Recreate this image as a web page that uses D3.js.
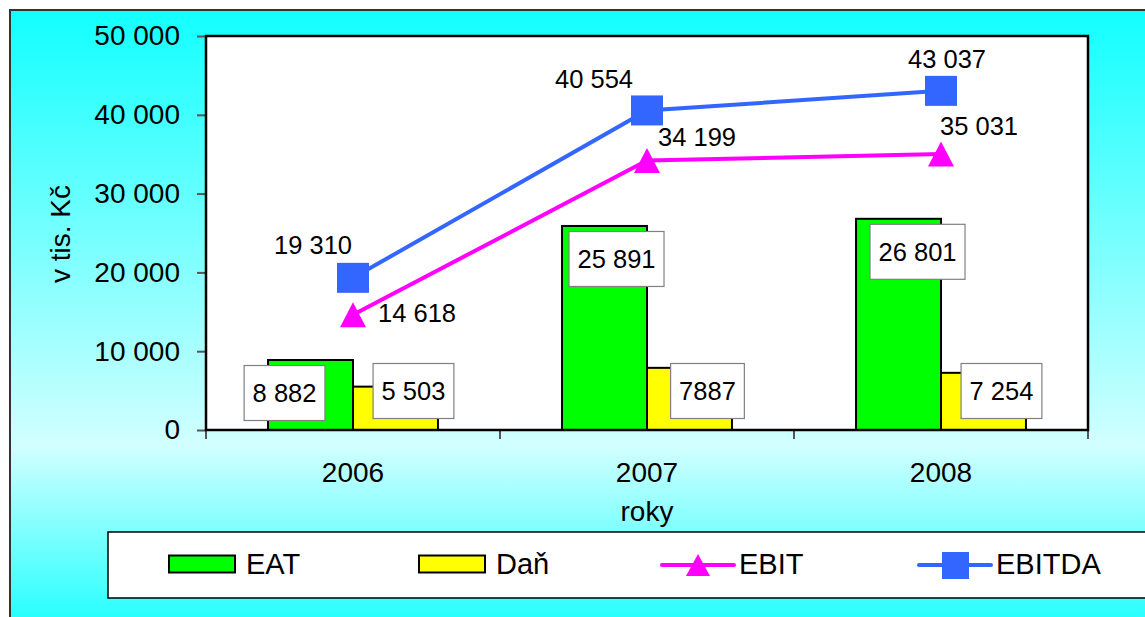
<!DOCTYPE html>
<html>
<head>
<meta charset="utf-8">
<script src="https://cdn.jsdelivr.net/npm/d3@7"></script>
<style>
  body { margin: 0; background: #fff; }
  text { font-family: "Liberation Sans", Arial, sans-serif; fill: #000; }
</style>
</head>
<body>
<div id="chart"></div>
<script>
// data
var years = ["2006", "2007", "2008"];
var eat = [8882, 25891, 26801];
var dan = [5503, 7887, 7254];
var ebit = [14618, 34199, 35031];
var ebitda = [19310, 40554, 43037];
var yTicks = [0, 10000, 20000, 30000, 40000, 50000];
var danText = ["5 503", "7887", "7 254"];

// hand placed label nudges (layout only)
var eatShift = [-26, 12, 19];
var ebitShift = [[64, 7], [50, -15], [38, -19]];
var ebitdaShift = [[-40, -24], [-53, -22], [6, -23]];

var W = 1145, H = 617;
var plot = { left: 206, top: 36, right: 1088, bottom: 430 };

var loc = d3.formatLocale({ decimal: ",", thousands: " ", grouping: [3], currency: ["", ""] });
var fmt = loc.format(",d");

var svg = d3.select("#chart").append("svg")
    .attr("width", W)
    .attr("height", H);

var defs = svg.append("defs");
var grad = defs.append("linearGradient")
    .attr("id", "bg")
    .attr("x1", 0).attr("y1", 0).attr("x2", 0).attr("y2", 1);
grad.append("stop").attr("offset", "0%").attr("stop-color", "#12ffff");
grad.append("stop").attr("offset", "70%").attr("stop-color", "#d2ffff");
grad.append("stop").attr("offset", "100%").attr("stop-color", "#1cffff");

// outer frame
svg.append("rect")
    .attr("x", 10).attr("y", 10)
    .attr("width", W + 20).attr("height", 622)
    .attr("fill", "url(#bg)")
    .attr("stroke", "#333")
    .attr("stroke-width", 2);

var x = d3.scaleBand()
    .domain(years)
    .range([plot.left, plot.right])
    .paddingInner(0.422)
    .paddingOuter(0.211);

var sub = d3.scaleBand()
    .domain(["EAT", "Daň"])
    .range([0, x.bandwidth()]);

var y = d3.scaleLinear()
    .domain([0, 50000])
    .range([plot.bottom, plot.top]);

// plot area
svg.append("rect")
    .attr("x", plot.left).attr("y", plot.top)
    .attr("width", plot.right - plot.left)
    .attr("height", plot.bottom - plot.top)
    .attr("fill", "#fff");

// y axis
var yAxis = svg.append("g")
    .attr("transform", "translate(" + plot.left + ",0)")
    .call(d3.axisLeft(y).tickValues(yTicks).tickSize(9).tickSizeOuter(0).tickPadding(17).tickFormat(fmt));
yAxis.select(".domain").remove();
yAxis.selectAll(".tick line").attr("stroke", "#555").attr("stroke-width", 2);
yAxis.selectAll(".tick text")
    .style("font-family", "'Liberation Sans', Arial, sans-serif")
    .style("font-size", "28px");

// x axis
var xAxis = svg.append("g")
    .attr("transform", "translate(0," + plot.bottom + ")")
    .call(d3.axisBottom(x).tickSize(0).tickPadding(32));
xAxis.select(".domain").remove();
xAxis.selectAll(".tick text")
    .style("font-family", "'Liberation Sans', Arial, sans-serif")
    .style("font-size", "28px");

// category boundary ticks
var bounds = d3.range(years.length + 1).map(function (i) { return plot.left + i * x.step(); });
svg.selectAll(".xb").data(bounds).enter().append("line")
    .attr("x1", function (d) { return d; }).attr("x2", function (d) { return d; })
    .attr("y1", plot.bottom).attr("y2", plot.bottom + 9)
    .attr("stroke", "#555").attr("stroke-width", 2);

// bars
var barSeries = [
    { name: "EAT", values: eat, color: "#00ff00" },
    { name: "Daň", values: dan, color: "#ffff00" }
];
barSeries.forEach(function (s) {
    svg.selectAll(".bar-" + s.name).data(s.values).enter().append("rect")
        .attr("x", function (d, i) { return x(years[i]) + sub(s.name); })
        .attr("y", function (d) { return y(d); })
        .attr("width", sub.bandwidth())
        .attr("height", function (d) { return y(0) - y(d); })
        .attr("fill", s.color)
        .attr("stroke", "#000")
        .attr("stroke-width", 2);
});

// plot border
svg.append("rect")
    .attr("x", plot.left).attr("y", plot.top)
    .attr("width", plot.right - plot.left)
    .attr("height", plot.bottom - plot.top)
    .attr("fill", "none")
    .attr("stroke", "#000")
    .attr("stroke-width", 2.5);

// lines
var cx = function (i) { return x(years[i]) + x.bandwidth() / 2; };
var line = d3.line()
    .x(function (d, i) { return cx(i); })
    .y(function (d) { return y(d); });

var triangle = function (w, h) {
    return "M0," + (-h / 2) + "L" + (w / 2) + "," + (h / 2) + "L" + (-w / 2) + "," + (h / 2) + "Z";
};

svg.append("path").datum(ebit)
    .attr("d", line)
    .attr("fill", "none")
    .attr("stroke", "#ff00ff")
    .attr("stroke-width", 4);
svg.append("path").datum(ebitda)
    .attr("d", line)
    .attr("fill", "none")
    .attr("stroke", "#3366ff")
    .attr("stroke-width", 4);

svg.selectAll(".tri").data(ebit).enter().append("path")
    .attr("transform", function (d, i) { return "translate(" + cx(i) + "," + y(d) + ")"; })
    .attr("d", triangle(26, 25))
    .attr("fill", "#ff00ff");

svg.selectAll(".sq").data(ebitda).enter().append("rect")
    .attr("x", function (d, i) { return cx(i) - 16; })
    .attr("y", function (d) { return y(d) - 15; })
    .attr("width", 32).attr("height", 30)
    .attr("fill", "#3366ff");

// line labels
function lineLabels(values, shift) {
    svg.selectAll(null).data(values).enter().append("text")
        .attr("x", function (d, i) { return cx(i) + shift[i][0]; })
        .attr("y", function (d, i) { return y(d) + shift[i][1]; })
        .attr("text-anchor", "middle")
        .style("font-size", "25.5px")
        .text(function (d) { return fmt(d); });
}
lineLabels(ebit, ebitShift);
lineLabels(ebitda, ebitdaShift);

// boxed bar labels
function boxLabel(cxv, cyv, str) {
    var g = svg.append("g");
    var r = g.append("rect");
    var t = g.append("text")
        .attr("x", cxv).attr("y", cyv + 9)
        .attr("text-anchor", "middle")
        .style("font-size", "25.5px")
        .text(str);
    var w = t.node().getComputedTextLength() + 17;
    r.attr("x", cxv - w / 2).attr("y", cyv - 27.5)
        .attr("width", w).attr("height", 55)
        .attr("fill", "#fff")
        .attr("stroke", "#808080")
        .attr("stroke-width", 1.2);
}
eat.forEach(function (d, i) {
    var bx = x(years[i]) + sub("EAT") + sub.bandwidth() / 2;
    boxLabel(bx + eatShift[i], y(d) + 33, fmt(d));
});
dan.forEach(function (d, i) {
    var bx = x(years[i]) + sub("Daň") + sub.bandwidth() / 2;
    boxLabel(bx + 18, y(0) - 39, danText[i]);
});

// axis titles
svg.append("text")
    .attr("transform", "translate(70,234) rotate(-90)")
    .attr("text-anchor", "middle")
    .style("font-size", "28px")
    .text("v tis. Kč");
svg.append("text")
    .attr("x", (plot.left + plot.right) / 2)
    .attr("y", 521)
    .attr("text-anchor", "middle")
    .style("font-size", "28px")
    .text("roky");

// legend
var lg = svg.append("g");
lg.append("rect")
    .attr("x", 108).attr("y", 532)
    .attr("width", W).attr("height", 66)
    .attr("fill", "#fff")
    .attr("stroke", "#000")
    .attr("stroke-width", 1.5);

var legendItems = [
    { name: "EAT", kind: "bar", color: "#00ff00" },
    { name: "Daň", kind: "bar", color: "#ffff00" },
    { name: "EBIT", kind: "tri", color: "#ff00ff" },
    { name: "EBITDA", kind: "sq", color: "#3366ff" }
];
var lx = [169, 419, 662, 919];
legendItems.forEach(function (it, i) {
    var g = lg.append("g").attr("transform", "translate(" + lx[i] + ",564)");
    if (it.kind === "bar") {
        g.append("rect")
            .attr("x", 0).attr("y", -8.5)
            .attr("width", 66).attr("height", 17)
            .attr("fill", it.color)
            .attr("stroke", "#000").attr("stroke-width", 2);
    } else {
        g.append("line")
            .attr("x1", 0).attr("x2", 72).attr("y1", 1).attr("y2", 1)
            .attr("stroke", it.color).attr("stroke-width", 4)
            .attr("stroke-linecap", "round");
        if (it.kind === "tri") {
            g.append("path")
                .attr("transform", "translate(36,1)")
                .attr("d", triangle(24, 22))
                .attr("fill", it.color);
        } else {
            g.append("rect")
                .attr("x", 23).attr("y", -12)
                .attr("width", 27).attr("height", 27)
                .attr("fill", it.color);
        }
    }
    g.append("text")
        .attr("x", 77)
        .attr("y", 10)
        .style("font-size", "29px")
        .text(it.name);
});
</script>
</body>
</html>
